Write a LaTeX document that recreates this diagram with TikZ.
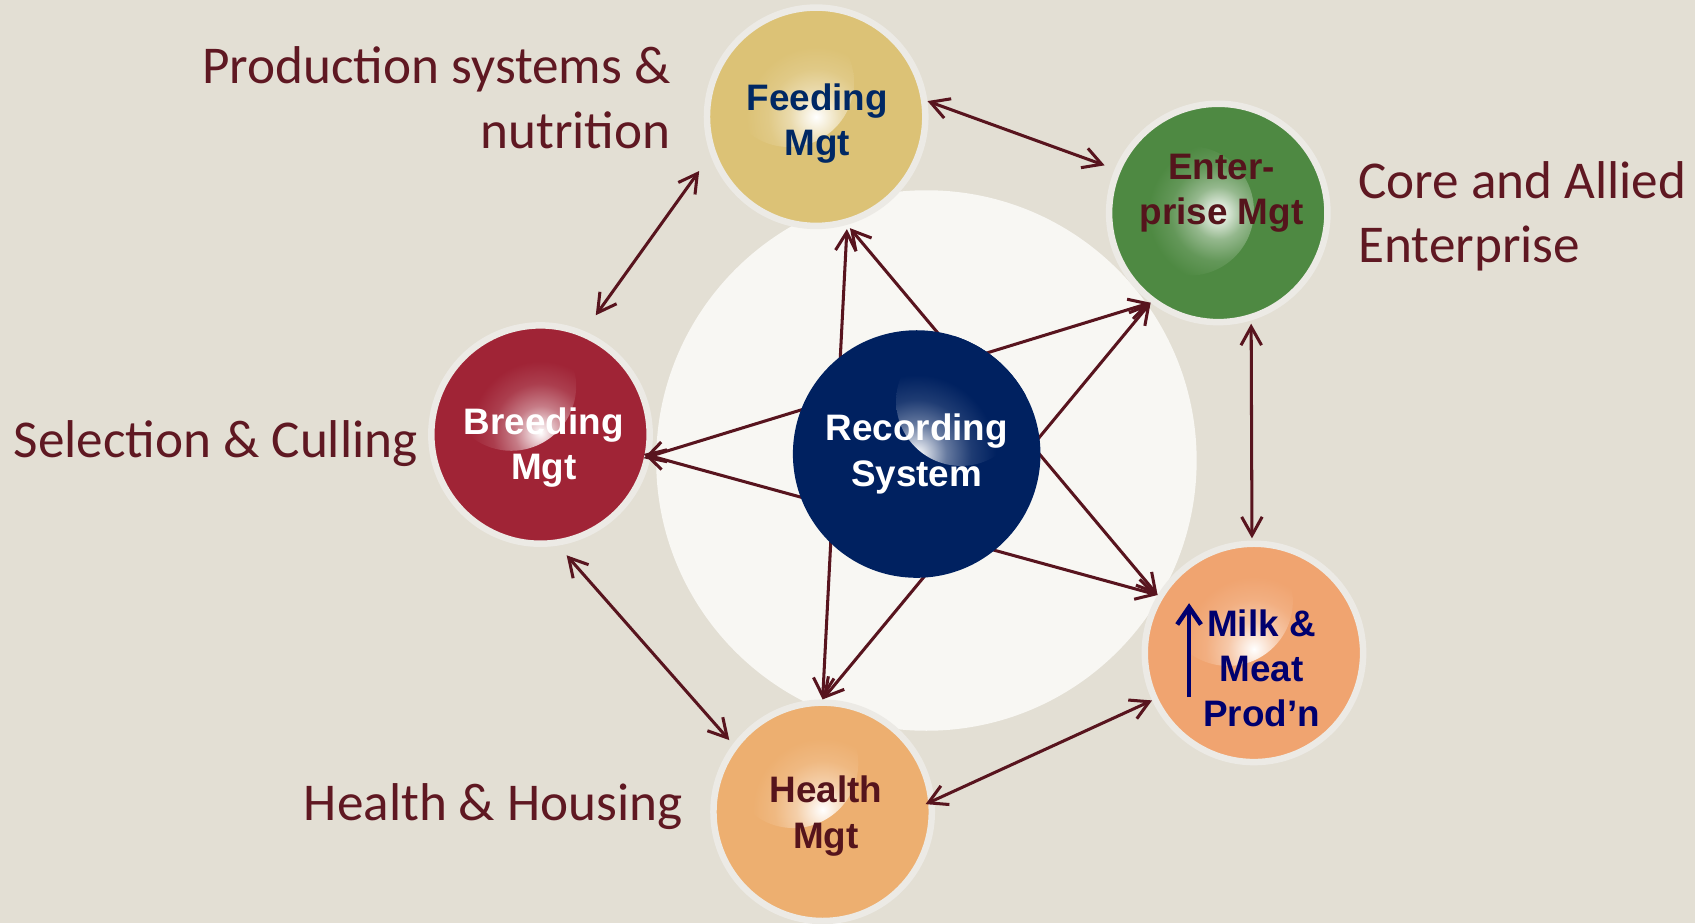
\documentclass[tikz,border=0pt]{standalone}
\usepackage{fontspec}
\usepackage{tikz}
\usetikzlibrary{positioning,calc,arrows.meta}
\newfontfamily\topicfont{Carlito}
\newfontfamily\ballfont{Liberation Sans}

\definecolor{bgcol}{RGB}{227,223,212}
\definecolor{halo}{RGB}{248,247,243}
\definecolor{ringcol}{RGB}{236,234,229}
\definecolor{feedcol}{RGB}{220,194,118}
\definecolor{entcol}{RGB}{78,137,66}
\definecolor{breedcol}{RGB}{160,36,54}
\definecolor{reccol}{RGB}{0,33,96}
\definecolor{milkcol}{RGB}{240,164,112}
\definecolor{healthcol}{RGB}{237,175,112}
\definecolor{linkcol}{RGB}{88,20,30}
\definecolor{topiccol}{RGB}{95,24,34}
\definecolor{navyink}{RGB}{0,40,100}
\definecolor{maroonink}{RGB}{85,20,28}
\definecolor{milkink}{RGB}{0,0,110}
\colorlet{ballbase}{black}

\pgfdeclareradialshading[ballbase]{glowball}{\pgfpointorigin}{color(0bp)=(white);
  color(2bp)=(white!80!ballbase); color(6bp)=(white!40!ballbase);
  color(11bp)=(white!12!ballbase); color(16bp)=(ballbase); color(50bp)=(ballbase)}

\tikzset{
  ball/.style 2 args={circle, fill=#1, minimum size=20.2mm, inner sep=0pt,
    align=center, font=\ballfont\fontsize{9.7}{11.9}\selectfont\bfseries,
    path picture={
      \colorlet{ballbase}{#1}
      \shade[shading=glowball]
        ($(path picture bounding box.center)+(#2)$) circle (60);}},
  ringed/.style={draw=ringcol, line width=0.6mm},
  balltext/.style={align=center, inner sep=0pt,
    font=\ballfont\fontsize{9.7}{11.9}\selectfont\bfseries},
  topic/.style={text=topiccol, inner sep=0pt,
    font=\topicfont\fontsize{14}{17}\selectfont},
  link/.style={<->, linkcol, line width=0.8pt},
}

\begin{document}
\begin{tikzpicture}[x=0.1mm, y=-0.1mm,
    >={Straight Barb[length=1.7mm,width=1.9mm]}]
	\fill[bgcol] (0,0) rectangle (1568,854);
	\useasboundingbox (0,0) rectangle (1568,854);
	\fill[halo] (857,426) circle (250);

	\node[ball={feedcol}{-25,-32}, ringed] (feed) at (755,108) {};
	\node[ball={entcol}{-27,-2}, ringed] (ent) at (1127,197) {};
	\node[ball={breedcol}{-27,-45}, ringed] (breed) at (500,402) {};
	\node[ball={milkcol}{-24,-48}, ringed] (milk) at (1160,604) {};
	\node[ball={healthcol}{-27,-45}, ringed] (health) at (761,751) {};

	\node[balltext, text=navyink] (feedtxt) at (756,114) {Feeding\\Mgt};
	\node[balltext, text=maroonink] (enttxt) at (1130,179) {Enter-\\prise Mgt};
	\node[balltext, text=white] (breedtxt) at (503,414) {Breeding\\Mgt};
	\node[balltext, text=milkink] (milktxt) at (1167,618) {Milk \&\\Meat\\Prod’n};
	\node[balltext, text=maroonink] (healthtxt) at (764,755) {Health\\Mgt};
	\draw[milkink, line width=1.2pt, -{Straight Barb[length=1.6mm,width=2.2mm]}]
	      ($(milk)+(-60,41)$) -- ($(milk)+(-60,-46)$);

	% outer ring
	\draw[link, shorten >=1mm] (feed.8) -- (ent.157);
	\draw[link, shorten <=0.3mm, shorten >=0.2mm] (ent.-73) -- (milk.91);
	\draw[link, shorten >=-0.9mm] (milk.-155) -- (health.6);
	\draw[link, shorten <=0.5mm, shorten >=1.2mm] (health.143) -- (breed.-81);
	\draw[link, shorten <=1.8mm, shorten >=1.8mm] (breed.67) -- (feed.-160);

	% star behind the recording system
	\draw[link, shorten <=0.4mm] (feed.-74) -- (health.90);
	\draw[link, shorten <=0.4mm] (feed.-74) -- (milk.149);
	\draw[link, shorten >=-0.7mm] (ent.-127) -- (breed.-11);
	\draw[link] (ent.-127) -- (health.90);
	\draw[link, shorten <=-0.7mm] (breed.-11) -- (milk.149);

	\node[ball={reccol}{41,-49}, minimum size=22.9mm, text=white] (rec) at (848,420) {Recording\\System};

	\node[topic, align=right, anchor=base east] (prodlbl) at (621,137) {Production systems \&\\nutrition};
	\node[topic, align=left, anchor=base west] (corelbl) at (1256,243) {Core and Allied\\Enterprise};
	\node[topic, anchor=base west] (sellbl) at (12,423) {Selection \& Culling};
	\node[topic, anchor=base east] (heallbl) at (632,759) {Health \& Housing};
\end{tikzpicture}
\end{document}
